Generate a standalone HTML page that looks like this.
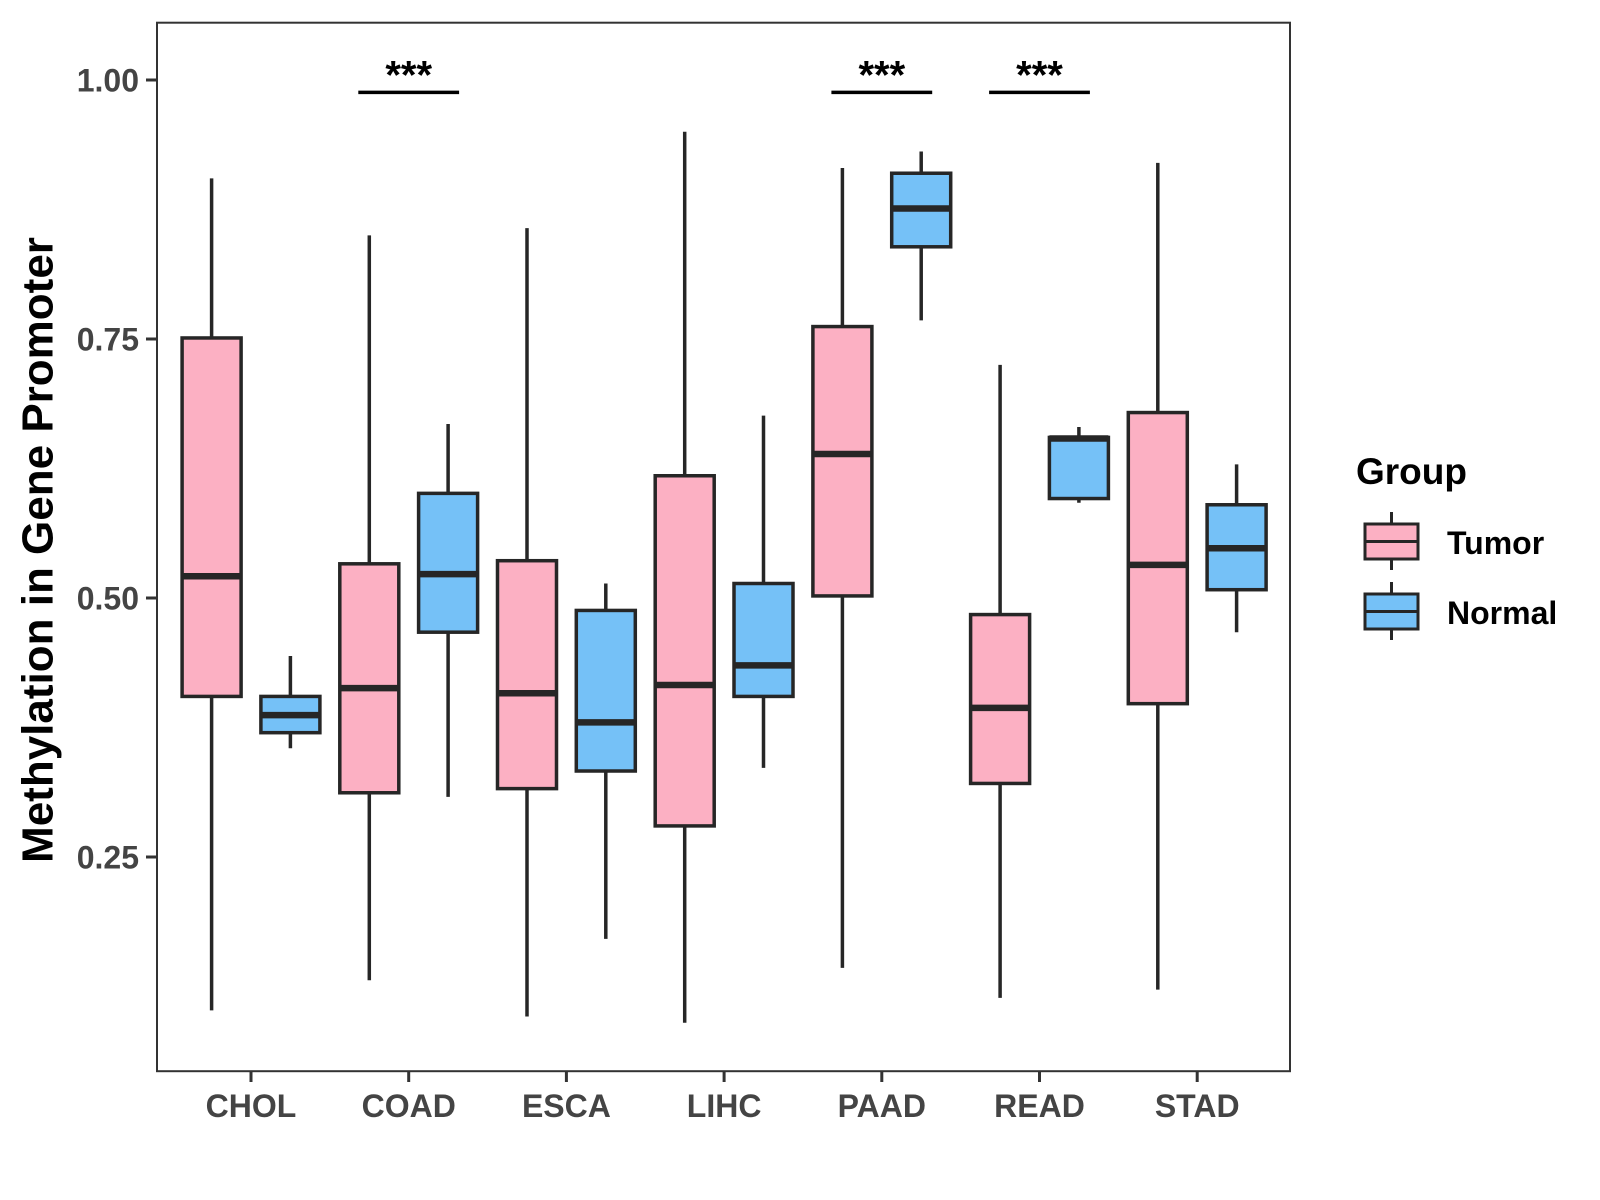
<!DOCTYPE html>
<html><head><meta charset="utf-8"><style>
html,body{margin:0;padding:0;background:#fff;}
svg{display:block;font-family:"Liberation Sans",Arial,sans-serif;}
</style></head><body>
<svg id="chart" width="1600" height="1200" viewBox="0 0 1600 1200">
<rect x="0" y="0" width="1600" height="1200" fill="#fff"/>
<g id="plot"></g>
<rect x="157" y="22.7" width="1133" height="1048.5" fill="none" stroke="#333" stroke-width="2"/>
<g id="axes"></g>
<text x="38" y="550" transform="rotate(-90 38 550)" text-anchor="middle" dominant-baseline="central" font-size="44" font-weight="bold" fill="#000">Methylation in Gene Promoter</text>
<g>
<text x="1356" y="484" font-size="37" font-weight="bold" fill="#000">Group</text>
<g>
<line x1="1391.5" y1="512" x2="1391.5" y2="570" stroke="#262626" stroke-width="3"/>
<rect x="1365" y="524" width="53" height="35" fill="#FCB0C3" stroke="#262626" stroke-width="3"/>
<line x1="1365" y1="541.5" x2="1418" y2="541.5" stroke="#262626" stroke-width="3"/>
<text x="1447" y="554" font-size="32" font-weight="bold" fill="#000">Tumor</text>
</g>
<g>
<line x1="1391.5" y1="582" x2="1391.5" y2="640" stroke="#262626" stroke-width="3"/>
<rect x="1365" y="594" width="53" height="35" fill="#75C1F7" stroke="#262626" stroke-width="3"/>
<line x1="1365" y1="611.5" x2="1418" y2="611.5" stroke="#262626" stroke-width="3"/>
<text x="1447" y="624" font-size="32" font-weight="bold" fill="#000">Normal</text>
</g>
</g>
</svg>
<script>
const categories = ["CHOL","COAD","ESCA","LIHC","PAAD","READ","STAD"];
// [whiskerLow, q1, median, q3, whiskerHigh]
const tumorStats = [
 [0.102,0.405,0.521,0.751,0.905],
 [0.131,0.312,0.413,0.533,0.850],
 [0.096,0.316,0.408,0.536,0.857],
 [0.090,0.280,0.416,0.618,0.950],
 [0.143,0.502,0.639,0.762,0.915],
 [0.114,0.321,0.394,0.484,0.725],
 [0.122,0.398,0.532,0.679,0.920]
];
const normalStats = [
 [0.355,0.370,0.387,0.405,0.444],
 [0.308,0.467,0.523,0.601,0.668],
 [0.171,0.333,0.380,0.488,0.514],
 [0.336,0.405,0.435,0.514,0.676],
 [0.768,0.839,0.876,0.910,0.931],
 [0.592,0.596,0.654,0.655,0.665],
 [0.467,0.508,0.548,0.590,0.629]
];
const yTicks = [0.25,0.50,0.75,1.00];
const yTickLabels = ["0.25","0.50","0.75","1.00"];
const sigCategories = ["COAD","PAAD","READ"];
const sigLabels = ["***","***","***"];
const sigLevel = 0.988;

const NS="http://www.w3.org/2000/svg";
function yS(v){return 80+(1-v)*1036;}
function xS(i){return 251+i*157.7;}
const half=29.5, off=39.4;
function mk(tag,attrs,parent){const e=document.createElementNS(NS,tag);for(const k in attrs)e.setAttribute(k,attrs[k]);parent.appendChild(e);return e;}
const plot=document.getElementById('plot');
const axes=document.getElementById('axes');

function drawBox(stats,cx,fill,name){
  const g=mk('g',{},plot);
  
  
  const [lo,q1,md,q3,hi]=stats;
  mk('line',{x1:cx,x2:cx,y1:yS(hi),y2:yS(lo),stroke:'#262626','stroke-width':3.5},g);
  mk('rect',{x:cx-half,y:yS(q3),width:2*half,height:yS(q1)-yS(q3),fill:fill,stroke:'#262626','stroke-width':3.5},g);
  mk('line',{x1:cx-half,x2:cx+half,y1:yS(md),y2:yS(md),stroke:'#262626','stroke-width':6.5},g);
}
categories.forEach((c,i)=>{
  drawBox(tumorStats[i],xS(i)-off,'#FCB0C3','box-tumor-'+c.toLowerCase());
  drawBox(normalStats[i],xS(i)+off,'#75C1F7','box-normal-'+c.toLowerCase());
  const t=mk('line',{x1:xS(i),x2:xS(i),y1:1071,y2:1082,stroke:'#333','stroke-width':3},axes);
  
  
  const l=mk('text',{x:xS(i),y:1117,'text-anchor':'middle','font-size':32,'font-weight':'bold',fill:'#444'},axes);
  l.textContent=c;
  
  
});
yTicks.forEach((v,i)=>{
  const t=mk('line',{x1:146,x2:157,y1:yS(v),y2:yS(v),stroke:'#333','stroke-width':3},axes);
  
  
  const l=mk('text',{x:139,y:yS(v)+11.5,'text-anchor':'end','font-size':32,'font-weight':'bold',fill:'#444'},axes);
  l.textContent=yTickLabels[i];
  
  
});
sigCategories.forEach((c,k)=>{
  const i=categories.indexOf(c);
  const y=yS(sigLevel);
  const ln=mk('line',{x1:xS(i)-off-11,x2:xS(i)+off+11,y1:y,y2:y,stroke:'#000','stroke-width':3.5},plot);
  
  
  const tx=mk('text',{x:xS(i),y:y-4,'text-anchor':'middle','font-size':40,'font-weight':'bold',fill:'#000'},plot);
  tx.textContent=sigLabels[k];
  
  
});
</script>
</body></html>
